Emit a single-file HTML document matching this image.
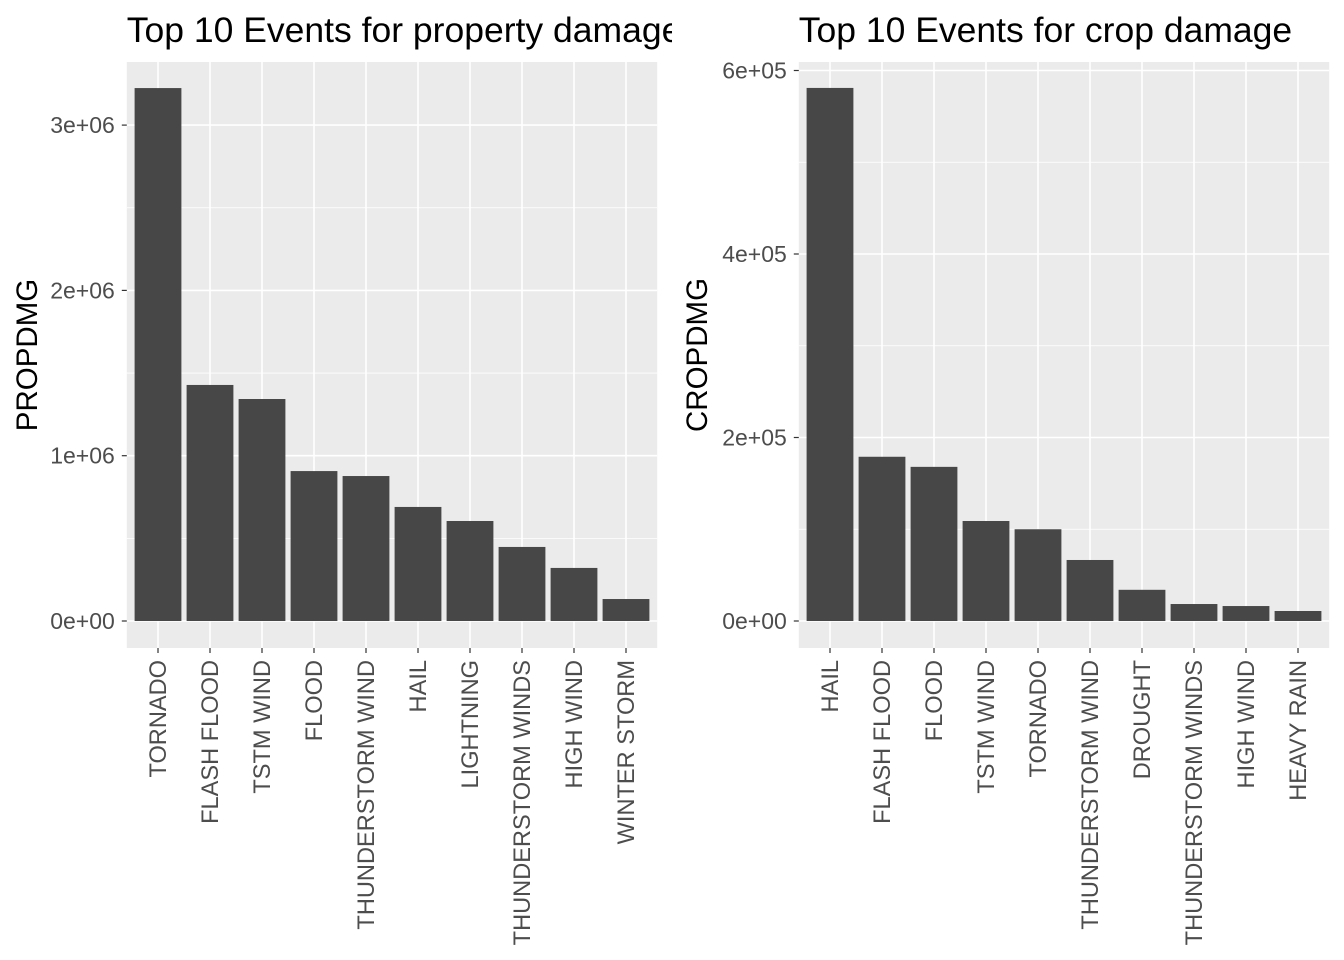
<!DOCTYPE html>
<html><head><meta charset="utf-8"><style>
html,body{margin:0;padding:0;background:#fff;}
svg{display:block;font-family:"Liberation Sans",Arial,sans-serif;}
</style></head><body>
<svg id="chart" width="1344" height="960">
<rect width="1344" height="960" fill="#fff"/>
<defs><clipPath id="clipL"><rect x="0" y="0" width="672" height="960"/></clipPath></defs>
<g id="left" clip-path="url(#clipL)"></g>
<g id="right"></g>
</svg>
<script>
const propCategories = ["TORNADO","FLASH FLOOD","TSTM WIND","FLOOD","THUNDERSTORM WIND","HAIL","LIGHTNING","THUNDERSTORM WINDS","HIGH WIND","WINTER STORM"];
const propValues = [3224000,1428000,1343000,907000,877000,690000,605000,448000,321000,133000];
const propTicks = [0,1000000,2000000,3000000];
const propTickLabels = ["0e+00","1e+06","2e+06","3e+06"];
const cropCategories = ["HAIL","FLASH FLOOD","FLOOD","TSTM WIND","TORNADO","THUNDERSTORM WIND","DROUGHT","THUNDERSTORM WINDS","HIGH WIND","HEAVY RAIN"];
const cropValues = [581000,179000,168000,109000,100000,66500,34000,18500,16300,10900];
const cropTicks = [0,200000,400000,600000];
const cropTickLabels = ["0e+00","2e+05","4e+05","6e+05"];

const NS="http://www.w3.org/2000/svg";
function mk(parent,tag,attrs,text){const e=document.createElementNS(NS,tag);for(const k in attrs)e.setAttribute(k,attrs[k]);if(text!==undefined)e.textContent=text;parent.appendChild(e);return e;}

function panel(g,o){
  const top=62,bottom=648,zeroY=621;
  const pxPerUnit=o.pxPerUnit;
  const y=v=>zeroY-v*pxPerUnit;
  const step=52;
  const x=i=>o.firstCenter+i*step;
  const left=o.firstCenter-0.6*step, right=x(o.cats.length-1)+0.6*step;
  const bg=mk(g,'rect',{x:left,y:top,width:right-left,height:bottom-top,fill:'#ebebeb'});
  
  
  const tstep=o.ticks[1]-o.ticks[0];
  for(let v=o.ticks[0]-tstep/2; v<=o.ticks[o.ticks.length-1]+tstep; v+=tstep){
    const yy=y(v); if(yy<top||yy>bottom) continue;
    const l=mk(g,'line',{x1:left,x2:right,y1:yy,y2:yy,stroke:'#fff','stroke-width':0.8});
    
    
  }
  o.ticks.forEach((t,i)=>{
    const yy=y(t);
    const l=mk(g,'line',{x1:left,x2:right,y1:yy,y2:yy,stroke:'#fff','stroke-width':1.6});
    
    
    mk(g,'line',{x1:left-5,x2:left,y1:yy,y2:yy,stroke:'#333','stroke-width':1.2});
    const tl=mk(g,'text',{x:left-12,y:yy+8,'text-anchor':'end','font-size':23,fill:'#4d4d4d'},o.tickLabels[i]);
    
    
  });
  o.cats.forEach((c,i)=>{
    const xx=x(i);
    const l=mk(g,'line',{x1:xx,x2:xx,y1:top,y2:bottom,stroke:'#fff','stroke-width':1.6});
    
    
  });
  o.cats.forEach((c,i)=>{
    const xx=x(i), w=step*0.9;
    const b=mk(g,'rect',{x:xx-w/2,y:y(o.vals[i]),width:w,height:zeroY-y(o.vals[i]),fill:'#474747'});
    
    
    mk(g,'line',{x1:xx,x2:xx,y1:bottom,y2:bottom+5,stroke:'#333','stroke-width':1.2});
    const t=mk(g,'text',{x:0,y:0,'text-anchor':'end','font-size':23.6,fill:'#4d4d4d',transform:`translate(${xx+8},${bottom+12}) rotate(-90)`},c);
    
    
  });
  const yt=mk(g,'text',{x:0,y:0,'text-anchor':'middle','font-size':29.5,fill:'#000',transform:`translate(${o.ytitleX},${(top+bottom)/2}) rotate(-90)`},o.ytitle);
  
  
  const tt=mk(g,'text',{x:left,y:42,'font-size':35.5,fill:'#000'},o.title);
  
  
}
panel(document.getElementById('left'),{cats:propCategories,vals:propValues,ticks:propTicks,tickLabels:propTickLabels,pxPerUnit:165.3/1000000,firstCenter:158,ytitle:'PROPDMG',ytitleX:37,title:'Top 10 Events for property damage'});
panel(document.getElementById('right'),{cats:cropCategories,vals:cropValues,ticks:cropTicks,tickLabels:cropTickLabels,pxPerUnit:183.5/200000,firstCenter:830,ytitle:'CROPDMG',ytitleX:707,title:'Top 10 Events for crop damage'});
</script>
</body></html>
